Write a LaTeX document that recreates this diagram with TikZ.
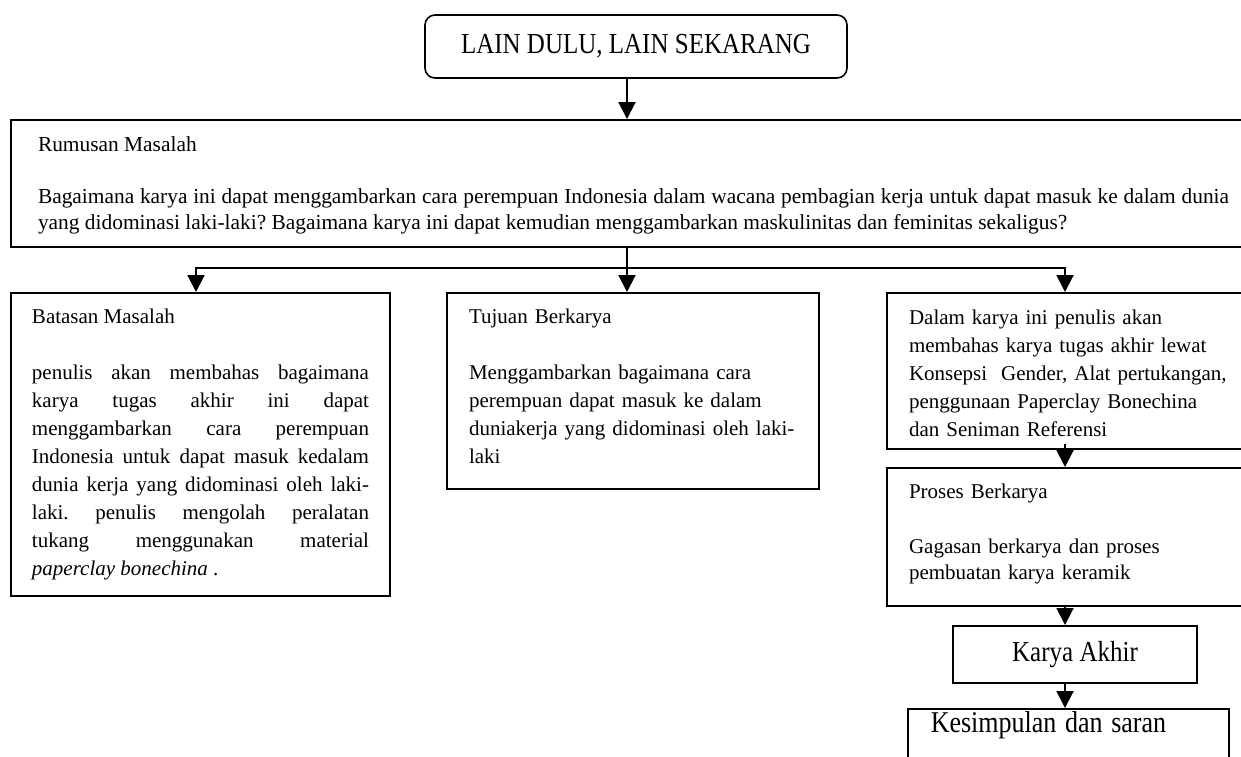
\documentclass[tikz,border=0pt]{standalone}
\usepackage{fontspec}
\setmainfont{Liberation Serif}
\frenchspacing
\usetikzlibrary{arrows.meta,positioning}

\newcommand{\tall}[1]{\scalebox{1}[1.16]{#1}}

\begin{document}
\begin{tikzpicture}[x=0.5pt,y=-0.5pt,
	box/.style={draw, line width=1pt, anchor=north west, inner xsep=11pt, inner ysep=0pt,
		font={\fontsize{10.5}{14}\selectfont\tolerance=9999\hbadness=10000\hyphenpenalty=10000\exhyphenpenalty=10000}},
	arr/.style={line width=1pt, -{Triangle[width=8.5pt,length=8.5pt]}}]
	\useasboundingbox (0,0) rectangle (1241,756);
	\clip (0,0) rectangle (1241,756);

	\node[draw, rounded corners=5pt, line width=0.8pt, minimum width=211pt, minimum height=31.5pt,
		font=\fontsize{12.5}{15}\selectfont] (title) at (636,46.5) {\tall{LAIN DULU, LAIN SEKARANG}};
	\node[box, inner xsep=13.5pt, text width=595.5pt, align=justify, text height=15.5pt, text depth=48pt,
		font={\fontsize{10.7}{13}\selectfont\tolerance=9999\hbadness=10000\hyphenpenalty=10000\exhyphenpenalty=10000}]
		(rumusan) at (10,119) {Rumusan Masalah\par\vspace{13pt}Bagaimana karya ini dapat menggambarkan cara perempuan Indonesia dalam wacana pembagian kerja untuk dapat masuk ke dalam dunia\linebreak yang didominasi laki-laki? Bagaimana karya ini dapat kemudian menggambarkan maskulinitas dan feminitas sekaligus?};
	\node[box, inner xsep=10.5pt, text width=168.5pt, align=justify, text height=15pt, text depth=136.5pt]
		(batasan) at (10,292) {Batasan Masalah\par\vspace{14pt}penulis akan membahas bagaimana\linebreak karya tugas akhir ini dapat\linebreak menggambarkan cara perempuan\linebreak Indonesia untuk dapat masuk kedalam\linebreak dunia kerja yang didominasi oleh laki-\linebreak laki. penulis mengolah peralatan\linebreak tukang menggunakan material\linebreak \textit{paperclay bonechina} .};
	\node[box, text width=164pt, align=left, text height=15pt, text depth=83pt]
		(tujuan) at (446,292) {Tujuan Berkarya\\[14pt]Menggambarkan bagaimana cara\\perempuan dapat masuk ke dalam\\duniakerja yang didominasi oleh laki-\\laki};
	\node[box, text width=164pt, align=left, text height=15.5pt, text depth=62.5pt]
		(dalam) at (886,292) {Dalam karya ini penulis akan\\membahas karya tugas akhir lewat\\Konsepsi~ Gender, Alat pertukangan,\\penggunaan Paperclay Bonechina\\dan Seniman Referensi};
	\node[box, text width=164pt, align=left, text height=15pt, text depth=54pt,
		font=\fontsize{10.5}{13}\selectfont]
		(proses) at (886,467) {Proses Berkarya\\[14.5pt]Gagasan berkarya dan proses\\pembuatan karya keramik};
	\node[draw, line width=1pt, minimum width=122pt, minimum height=28.5pt, inner sep=0pt,
		font=\fontsize{12.5}{15}\selectfont] (akhir) at (1075,654.5) {\tall{Karya Akhir}};
	\node[box, line width=0.8pt, inner xsep=11.5pt, text width=137.5pt, align=left, text height=12pt, text depth=29pt,
		font=\fontsize{13}{15}\selectfont] (simpul) at (907,708) {\tall{Kesimpulan dan saran}};

	\coordinate (lcol) at (196,268);
	\coordinate (split) at (627,268);
	\coordinate (rcol) at (1065,268);

	\draw[arr] (title.south -| split) -- (rumusan.north -| split);
	\draw[arr] (rumusan.south -| split) -- (tujuan.north -| split);
	\draw[arr] (split) -| (batasan.north -| lcol);
	\draw[arr] (split) -| (dalam.north -| rcol);
	\draw[arr] ([yshift=3pt]dalam.south -| rcol) -- (proses.north -| rcol);
	\draw[arr] (proses.south -| rcol) -- (akhir.north -| rcol);
	\draw[arr] (akhir.south -| rcol) -- (simpul.north -| rcol);
\end{tikzpicture}
\end{document}
